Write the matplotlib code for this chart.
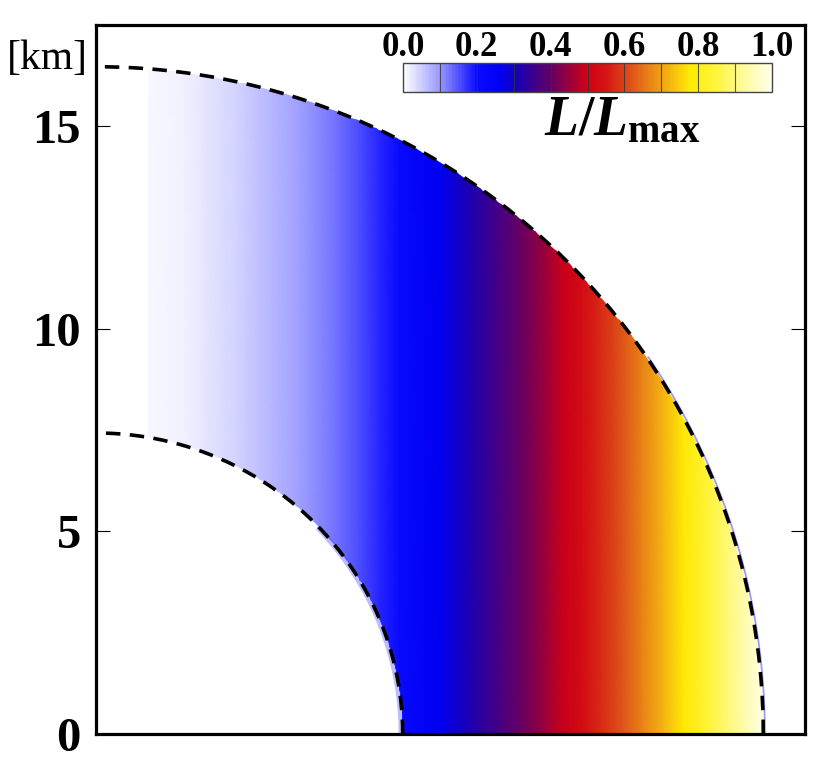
import numpy as np
import matplotlib
matplotlib.use("Agg")
import matplotlib.pyplot as plt
from matplotlib.colors import LinearSegmentedColormap
from matplotlib.patches import Polygon

plt.rcParams['font.family'] = ['Liberation Serif', 'DejaVu Serif']
plt.rcParams['mathtext.fontset'] = 'custom'
plt.rcParams['mathtext.rm'] = 'Liberation Serif:bold'
plt.rcParams['mathtext.it'] = 'Liberation Serif:bold:italic'
plt.rcParams['mathtext.bf'] = 'Liberation Serif:bold'

# --- data ---
# L/Lmax across the cylindrical radius x [km] (the field only changes with x)
x_km = [1.3, 2.0, 2.5, 3.0, 3.5, 4.0, 4.5, 5.0, 5.5, 6.0, 6.5, 7.0, 7.5, 8.0,
        8.5, 9.0, 9.5, 10.0, 10.5, 11.0, 11.5, 12.0, 12.5, 13.0, 13.5, 14.0,
        14.5, 15.0, 15.5, 16.0, 16.5]
L_ratio = [0.01, 0.015, 0.02, 0.035, 0.045, 0.06, 0.075, 0.09, 0.11, 0.13,
           0.155, 0.18, 0.205, 0.235, 0.265, 0.30, 0.335, 0.37, 0.405, 0.445,
           0.49, 0.53, 0.575, 0.62, 0.67, 0.72, 0.775, 0.83, 0.885, 0.94, 1.00]

# boundaries of the region [km]
inner_eq, inner_pole = 7.57, 7.43
outer_r = 16.47
x_cut = 1.29

y_ticks = [0, 5, 10, 15]
cbar_ticks = [0.0, 0.2, 0.4, 0.6, 0.8, 1.0]

# colour scale as seen in the colour bar
cmap_pts = [
    (0.00, (255, 255, 255)),
    (0.10, (150, 150, 255)),
    (0.20, (10, 10, 255)),
    (0.26, (0, 0, 245)),
    (0.31, (25, 0, 180)),
    (0.40, (100, 0, 100)),
    (0.50, (210, 0, 20)),
    (0.55, (212, 20, 20)),
    (0.62, (222, 85, 25)),
    (0.70, (240, 160, 20)),
    (0.78, (255, 235, 5)),
    (0.85, (255, 245, 60)),
    (0.92, (255, 250, 150)),
    (1.00, (255, 255, 235)),
]
cmap = LinearSegmentedColormap.from_list(
    "lum", [(p, tuple(c / 255 for c in rgb)) for p, rgb in cmap_pts])

fig = plt.figure(figsize=(8.3, 7.75), dpi=100)
ax = fig.add_axes([96 / 830, 41 / 775, 709 / 830, 709 / 775])
ax.set_xlim(0, 17.5)
ax.set_ylim(0, 17.5)

# field: columns of constant colour, clipped to the shell
X = np.array(x_km)
Y = np.array([0.0, 17.5])
C = np.vstack([L_ratio, L_ratio])
mesh = ax.pcolormesh(X, Y, C, cmap=cmap, vmin=0, vmax=1, shading='gouraud')

t = np.linspace(0, np.pi / 2, 400)
t_out_end = np.arccos(x_cut / outer_r)
t_in_end = np.arccos(x_cut / inner_eq)
to = np.linspace(0, t_out_end, 300)
ti = np.linspace(t_in_end, 0, 300)
outline = np.concatenate([
    np.column_stack([outer_r * np.cos(to), outer_r * np.sin(to)]),
    np.column_stack([inner_eq * np.cos(ti), inner_pole * np.sin(ti)]),
])
clip = Polygon(outline, closed=True, transform=ax.transData, facecolor='none', edgecolor='none')
ax.add_patch(clip)
mesh.set_clip_path(clip)

# soft blue fringe seen along the edges
tf = np.linspace(0, 0.75, 100)
ax.plot(inner_eq * np.cos(tf) - 0.04, inner_pole * np.sin(tf), color=(0.25, 0.25, 1.0),
        lw=3.5, alpha=0.35, solid_capstyle='round')
tf2 = np.linspace(0, 0.6, 100)
ax.plot(outer_r * np.cos(tf2) + 0.04, outer_r * np.sin(tf2), color=(0.35, 0.35, 1.0),
        lw=1.3, alpha=0.6)

# dashed boundaries
ax.plot(outer_r * np.cos(t), outer_r * np.sin(t), color='black', lw=2.6,
        linestyle=(0, (4, 2.6)))
ax.plot(inner_eq * np.cos(t), inner_pole * np.sin(t), color='black', lw=2.6,
        linestyle=(0, (4, 2.6)))

ax.set_xticks([])
ax.set_yticks(y_ticks)
ax.set_yticklabels([str(v) for v in y_ticks], fontsize=35, fontweight='bold')
ax.tick_params(axis='y', direction='in', left=True, right=True, length=10,
               width=0.8, pad=11)
for sp in ax.spines.values():
    sp.set_linewidth(2.3)

fig.text(88 / 830, 1 - 69 / 775, '[km]', fontsize=30, ha='right', va='baseline')

# colour bar
cax = fig.add_axes([403 / 830, 1 - 92 / 775, 369 / 830, 29 / 775])
cb = fig.colorbar(mesh, cax=cax, orientation='horizontal')
cb.set_ticks(cbar_ticks)
cb.set_ticklabels(['%.1f' % v for v in cbar_ticks])
cax.xaxis.set_ticks_position('top')
cax.tick_params(axis='x', length=0, pad=-1, labelsize=25)
for lab in cax.get_xticklabels():
    lab.set_fontweight('bold')
cb.outline.set_linewidth(1.0)
cb.outline.set_edgecolor('#444444')
for v in np.arange(0.1, 1.0, 0.1):
    cax.axvline(v, color='#333333', lw=0.8, alpha=0.8)

fig.text(622 / 830, 1 - 135 / 775, r'$L/L_{\rm max}$', fontsize=40,
         ha='center', va='baseline')

fig.savefig('out.png', dpi=100)
